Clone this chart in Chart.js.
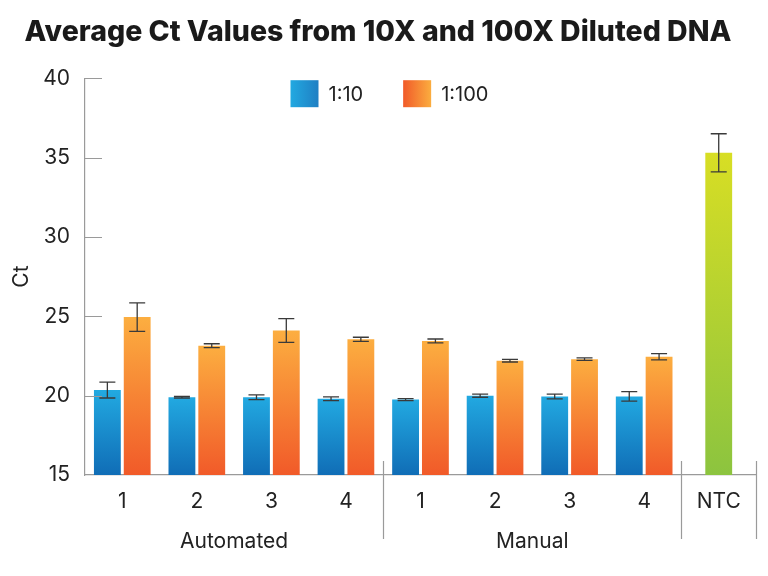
<!DOCTYPE html>
<html>
<head>
<meta charset="utf-8">
<script src="https://cdn.jsdelivr.net/npm/chart.js@4.4.1/dist/chart.umd.min.js"></script>
<style>
  body { margin: 0; background: #fff; }
  #wrap { width: 768px; height: 576px; }
</style>
</head>
<body>
<div id="wrap"><canvas id="chart" width="768" height="576"></canvas></div>
<script>
// categories and groups
const categories = ['1', '2', '3', '4', '1', '2', '3', '4', 'NTC'];
const groupLabels = ['Automated', 'Manual'];
const groupCenters = [1.5, 5.5];
const dividers = [3.5, 7.5, 8.5];

// average Ct values and error (+/-)
const dil10 = [20.35, 19.9, 19.9, 19.8, 19.75, 20.0, 19.95, 19.95, null];
const dil10Err = [0.5, 0.05, 0.15, 0.12, 0.06, 0.1, 0.15, 0.3, null];
const dil100 = [24.95, 23.15, 24.1, 23.55, 23.45, 22.2, 22.3, 22.45, null];
const dil100Err = [0.9, 0.12, 0.75, 0.13, 0.12, 0.08, 0.08, 0.2, null];
const ntc = [null, null, null, null, null, null, null, null, 35.3];
const ntcErr = [null, null, null, null, null, null, null, null, 1.2];

const yTicks = [15, 20, 25, 30, 35, 40];

const FONT = 'Inter, "Noto Sans", sans-serif';
const TEXT = '#222';
const AXIS = '#9a9a9a';

// vertical gradient per bar, from value down to the axis
function barGradient(top, bottom) {
  return (ctx) => {
    const chart = ctx.chart;
    const { chartArea, scales } = chart;
    if (!chartArea || ctx.raw == null) return bottom;
    const yTop = scales.y.getPixelForValue(ctx.raw);
    const g = chart.ctx.createLinearGradient(0, yTop, 0, chartArea.bottom);
    g.addColorStop(0, top);
    g.addColorStop(1, bottom);
    return g;
  };
}

// error bars with caps
const errorBarsPlugin = {
  id: 'errorBars',
  afterDatasetsDraw: (chart) => {
    const { ctx } = chart;
    const y = chart.scales.y;
    chart.data.datasets.forEach((dataset, i) => {
      const meta = chart.getDatasetMeta(i);
      meta.data.forEach((bar, index) => {
        const v = dataset.data[index];
        const e = dataset.errors[index];
        if (v == null || e == null) return;
        const top = y.getPixelForValue(v + e);
        const bottom = y.getPixelForValue(v - e);
        ctx.save();
        ctx.strokeStyle = '#3a3a3a';
        ctx.lineWidth = 1.3;
        ctx.beginPath();
        ctx.moveTo(bar.x, top);
        ctx.lineTo(bar.x, bottom);
        ctx.moveTo(bar.x - 8, top);
        ctx.lineTo(bar.x + 8, top);
        ctx.moveTo(bar.x - 8, bottom);
        ctx.lineTo(bar.x + 8, bottom);
        ctx.stroke();
        ctx.restore();
      });
    });
  },
};

// inner y ticks, group dividers, group labels and legend
const decorPlugin = {
  id: 'decor',
  afterDraw: (chart) => {
    const { ctx, chartArea } = chart;
    const x = chart.scales.x;
    const y = chart.scales.y;
    ctx.save();
    ctx.strokeStyle = AXIS;
    ctx.lineWidth = 1.2;
    ctx.beginPath();
    yTicks.slice(1).forEach((t) => {
      const py = Math.round(y.getPixelForValue(t)) + 0.5;
      ctx.moveTo(chartArea.left, py);
      ctx.lineTo(chartArea.left + 17, py);
    });
    dividers.forEach((d) => {
      const px = Math.round(x.getPixelForValue(d)) + 0.5;
      ctx.moveTo(px, chartArea.bottom - 14);
      ctx.lineTo(px, chartArea.bottom + 64);
    });
    ctx.stroke();

    ctx.fillStyle = TEXT;
    ctx.font = '21px ' + FONT;
    ctx.textAlign = 'center';
    ctx.textBaseline = 'middle';
    groupLabels.forEach((label, i) => {
      ctx.fillText(label, x.getPixelForValue(groupCenters[i]), chartArea.bottom + 67);
    });

    // legend
    const items = [
      { text: '1:10', from: '#22a9e1', to: '#1f7fc3' },
      { text: '1:100', from: '#f15a29', to: '#fbad3f' },
    ];
    const boxW = 28, boxH = 27, gap = 10, spacing = 40;
    ctx.font = '20px ' + FONT;
    const widths = items.map((it) => boxW + gap + ctx.measureText(it.text).width);
    let lx = (chartArea.left + chartArea.right) / 2 - 130;
    const ly = chartArea.top + 2;
    items.forEach((it, i) => {
      const g = ctx.createLinearGradient(lx, 0, lx + boxW, 0);
      g.addColorStop(0, it.from);
      g.addColorStop(1, it.to);
      ctx.fillStyle = g;
      ctx.fillRect(lx, ly, boxW, boxH);
      ctx.fillStyle = TEXT;
      ctx.textAlign = 'left';
      ctx.fillText(it.text, lx + boxW + gap, ly + boxH / 2 + 1);
      lx += widths[i] + spacing;
    });
    ctx.restore();
  },
};

new Chart(document.getElementById('chart'), {
  type: 'bar',
  data: {
    labels: categories,
    datasets: [
      {
        label: '1:10',
        data: dil10,
        errors: dil10Err,
        backgroundColor: barGradient('#22a9e1', '#106db6'),
        skipNull: true,
      },
      {
        label: '1:100',
        data: dil100,
        errors: dil100Err,
        backgroundColor: barGradient('#fcae40', '#f15a29'),
        skipNull: true,
      },
      {
        label: 'NTC',
        data: ntc,
        errors: ntcErr,
        backgroundColor: barGradient('#d8de24', '#8cc43f'),
        skipNull: true,
        barPercentage: 0.45,
      },
    ],
  },
  options: {
    responsive: false,
    animation: false,
    devicePixelRatio: 1,
    layout: { padding: { left: 0, right: 12, top: 0, bottom: 0 } },
    datasets: { bar: { categoryPercentage: 0.8, barPercentage: 0.9 } },
    plugins: {
      legend: { display: false },
      tooltip: { enabled: false },
      title: {
        display: true,
        text: 'Average Ct Values from 10X and 100X Diluted DNA',
        color: '#1a1a1a',
        font: { family: FONT, size: 28.5, weight: '800' },
        padding: { top: 15, bottom: 29 },
      },
    },
    scales: {
      x: {
        grid: { display: false, drawTicks: false },
        border: { display: true, color: AXIS, width: 1.2 },
        ticks: { color: TEXT, font: { family: FONT, size: 21 }, padding: 14, maxRotation: 0 },
        afterFit: (scale) => { scale.height = 101; },
      },
      y: {
        min: 15,
        max: 40,
        afterBuildTicks: (scale) => { scale.ticks = yTicks.map((v) => ({ value: v })); },
        grid: { display: false, drawTicks: false },
        border: { display: true, color: AXIS, width: 1.2 },
        ticks: { color: TEXT, font: { family: FONT, size: 21 }, padding: 15 },
        title: {
          display: true,
          text: 'Ct',
          color: TEXT,
          font: { family: FONT, size: 21 },
          padding: { top: 9, bottom: 0 },
        },
        afterFit: (scale) => { scale.width = 85; },
      },
    },
  },
  plugins: [errorBarsPlugin, decorPlugin],
});
</script>
</body>
</html>
